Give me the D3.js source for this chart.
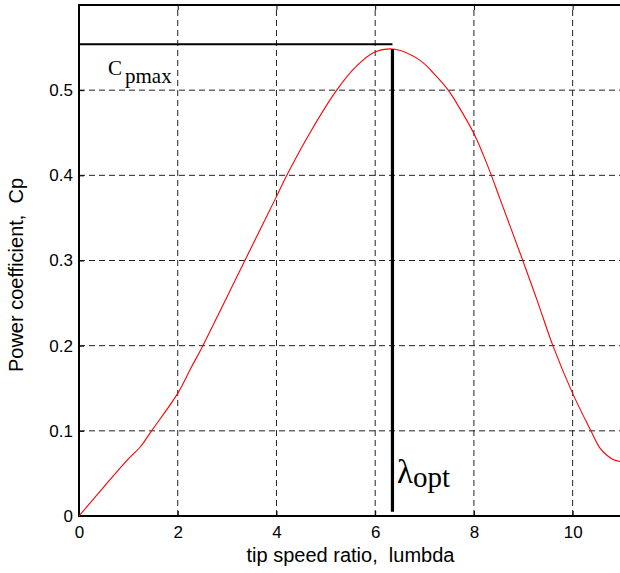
<!DOCTYPE html>
<html>
<head>
<meta charset="utf-8">
<script src="https://cdn.jsdelivr.net/npm/d3@7"></script>
<style>
  body { margin: 0; background: #fff; }
  svg { display: block; }
  .tick text { font-family: "Liberation Sans", Arial, sans-serif; font-size: 17px; fill: #000; }
  .grid line { stroke: #222; stroke-dasharray: 6 4; stroke-width: 1; }
</style>
</head>
<body>
<svg id="chart"></svg>
<script>
// data
var lambdaVals = [0, 0.5, 1.0, 1.24, 1.47, 2.0, 2.27, 2.51, 2.97, 3.36, 3.7, 4.0, 4.21, 4.7, 5.22, 5.6, 6.0, 6.4, 6.91, 7.18, 7.48, 7.72, 8.0, 8.19, 8.34, 8.53, 8.99, 9.3, 9.6, 10.0, 10.37, 10.55, 10.7, 10.83, 10.96];
var cpVals     = [0, 0.034, 0.067, 0.081, 0.1, 0.144, 0.174, 0.2, 0.254, 0.3, 0.34, 0.375, 0.4, 0.452, 0.5, 0.527, 0.545, 0.548, 0.535, 0.52, 0.5, 0.478, 0.449, 0.424, 0.402, 0.372, 0.3, 0.25, 0.2, 0.144, 0.1, 0.08, 0.071, 0.066, 0.064];
var xTicks = [0, 2, 4, 6, 8, 10];
var yTicks = [0, 0.1, 0.2, 0.3, 0.4, 0.5];
var yTickLabels = ["0", "0.1", "0.2", "0.3", "0.4", "0.5"];
var cpMax = 0.554;
var lambdaOpt = 6.35;

var width = 620, height = 573;
var mLeft = 79, mRight = 622, mTop = 5, mBottom = 516;

var svg = d3.select("#chart").attr("width", width).attr("height", height);

var x = d3.scaleLinear().domain([0, 11]).range([mLeft, mRight]);
var y = d3.scaleLinear().domain([0, 0.6]).range([mBottom, mTop]);

// grid lines
svg.append("g").attr("class", "grid")
  .selectAll("line").data(xTicks.slice(1)).enter().append("line")
  .attr("x1", function (d) { return x(d); }).attr("x2", function (d) { return x(d); })
  .attr("y1", mBottom).attr("y2", mTop);
svg.append("g").attr("class", "grid")
  .selectAll("line").data(yTicks.slice(1)).enter().append("line")
  .attr("y1", function (d) { return y(d); }).attr("y2", function (d) { return y(d); })
  .attr("x1", mLeft).attr("x2", mRight);

// axes
var xAxis = d3.axisBottom(x).tickValues(xTicks).tickSize(-5).tickPadding(10).tickFormat(d3.format("d"));
var yAxis = d3.axisLeft(y).tickValues(yTicks).tickSize(-5).tickPadding(6)
  .tickFormat(function (d, i) { return yTickLabels[i]; });

var gx = svg.append("g").attr("transform", "translate(0," + mBottom + ")").call(xAxis);
var gy = svg.append("g").attr("transform", "translate(" + mLeft + ",0)").call(yAxis);
gx.select(".domain").remove();
gy.select(".domain").remove();
gx.selectAll(".tick line").attr("stroke", "#000");
gy.selectAll(".tick line").attr("stroke", "#000");

// top axis ticks
svg.append("g").attr("transform", "translate(0," + mTop + ")")
  .call(d3.axisTop(x).tickValues(xTicks).tickSize(-5).tickFormat(""))
  .select(".domain").remove();

// box
svg.append("path")
  .attr("d", "M" + mRight + "," + mTop + "H" + mLeft + "V" + mBottom + "H" + mRight)
  .attr("fill", "none").attr("stroke", "#000").attr("stroke-width", 2);

// Cp curve
var pts = lambdaVals.map(function (d, i) { return [d, cpVals[i]]; });
var line = d3.line()
  .x(function (d) { return x(d[0]); })
  .y(function (d) { return y(d[1]); })
  .curve(d3.curveCatmullRom.alpha(0.5));
svg.append("path").datum(pts)
  .attr("d", line)
  .attr("fill", "none").attr("stroke", "#ff0000").attr("stroke-width", 1.1);

// Cpmax and lambda_opt markers
svg.append("line")
  .attr("x1", x(0)).attr("x2", x(lambdaOpt))
  .attr("y1", y(cpMax)).attr("y2", y(cpMax))
  .attr("stroke", "#000").attr("stroke-width", 2);
svg.append("line")
  .attr("x1", x(lambdaOpt)).attr("x2", x(lambdaOpt))
  .attr("y1", y(0.548)).attr("y2", y(0.005))
  .attr("stroke", "#000").attr("stroke-width", 3.2);

// labels
var cp = svg.append("text")
  .attr("x", 108).attr("y", 75)
  .attr("font-family", "Liberation Serif, Times New Roman, serif")
  .attr("font-size", 21);
cp.append("tspan").text("C");
cp.append("tspan").attr("dx", 3).attr("dy", 8).text("pmax");

var lo = svg.append("text")
  .attr("x", 397).attr("y", 483)
  .attr("font-family", "Liberation Serif, Times New Roman, serif");
lo.append("tspan").attr("font-size", 33).text("λ");
lo.append("tspan").attr("font-size", 29).attr("dy", 4).text("opt");

svg.append("text")
  .attr("x", (mLeft + mRight) / 2).attr("y", 562)
  .attr("text-anchor", "middle")
  .attr("font-family", "Liberation Sans, Arial, sans-serif")
  .attr("font-size", 20)
  .attr("xml:space", "preserve")
  .text("tip speed ratio,  lumbda");

svg.append("text")
  .attr("transform", "translate(23,275) rotate(-90)")
  .attr("text-anchor", "middle")
  .attr("font-family", "Liberation Sans, Arial, sans-serif")
  .attr("font-size", 20)
  .attr("xml:space", "preserve")
  .text("Power coefficient,  Cp");
</script>
</body>
</html>
